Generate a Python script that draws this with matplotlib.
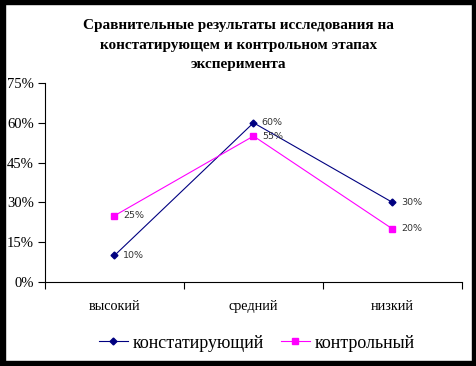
import matplotlib
matplotlib.use('Agg')
import matplotlib.pyplot as plt
from matplotlib.patches import Rectangle

# data
categories = ['высокий', 'средний', 'низкий']
konst = [10, 60, 30]
kontr = [25, 55, 20]
series_names = ['констатирующий', 'контрольный']
y_ticks = [0, 15, 30, 45, 60, 75]
title = 'Сравнительные результаты исследования на\nконстатирующем и контрольном этапах\nэксперимента'

plt.rcParams['font.family'] = ['Liberation Serif', 'DejaVu Serif']

fig = plt.figure(figsize=(4.77, 3.66), dpi=100)
W, H = 477, 366

# black frame around the picture
fig.patches.append(Rectangle((0, 0), 5 / W, 1, transform=fig.transFigure, color='black', zorder=0))
fig.patches.append(Rectangle((472 / W, 0), 5 / W, 1, transform=fig.transFigure, color='black', zorder=0))
fig.patches.append(Rectangle((0, 1 - 4 / H), 1, 4 / H, transform=fig.transFigure, color='black', zorder=0))
fig.patches.append(Rectangle((0, 0), 1, 5 / H, transform=fig.transFigure, color='black', zorder=0))

ax = fig.add_axes([45 / W, 1 - 282 / H, (462 - 45) / W, (282 - 83) / H])
x = list(range(len(categories)))

l1, = ax.plot(x, konst, color='#000080', lw=0.8, marker='D', ms=3.5, mfc='#000080', mec='#000080')
l2, = ax.plot(x, kontr, color='#FF00FF', lw=0.8, marker='s', ms=4.5, mfc='#FF00FF', mec='#FF00FF')

for xi, v in zip(x, konst):
    ax.annotate(f'{v}%', (xi, v), xytext=(6, 0), textcoords='offset points', va='center', ha='left',
                fontsize=6.8, family='DejaVu Sans', color='#333333')
for xi, v in zip(x, kontr):
    ax.annotate(f'{v}%', (xi, v), xytext=(6, 0), textcoords='offset points', va='center', ha='left',
                fontsize=6.8, family='DejaVu Sans', color='#333333')

ax.set_xlim(-0.5, len(categories) - 0.5)
ax.set_ylim(0, 75)
ax.set_yticks(y_ticks)
ax.set_yticklabels([f'{t}%' for t in y_ticks], fontsize=10.5)
ax.set_xticks([i - 0.5 for i in range(len(categories) + 1)])
ax.set_xticklabels([])
ax.set_xticks(x, minor=True)
ax.set_xticklabels(categories, minor=True, fontsize=10.3)
ax.tick_params(axis='x', which='minor', length=0, pad=13)
ax.tick_params(axis='x', which='major', length=5, width=0.8, direction='out')
ax.tick_params(axis='y', length=5, width=0.8, direction='out', pad=3)
for s in ['top', 'right']:
    ax.spines[s].set_visible(False)
for s in ['left', 'bottom']:
    ax.spines[s].set_linewidth(0.8)

fig.text(0.5, 1 - 45 / H, title, ha='center', va='center', fontsize=11, fontweight='bold',
         linespacing=1.62)

fig.legend([l1, l2], series_names, loc='center', bbox_to_anchor=(257 / W, 1 - 343 / H), ncol=2,
           frameon=False, fontsize=13, handlelength=1.6, handletextpad=0.3, columnspacing=0.9,
           borderpad=0)

fig.savefig('out.png', dpi=100)
